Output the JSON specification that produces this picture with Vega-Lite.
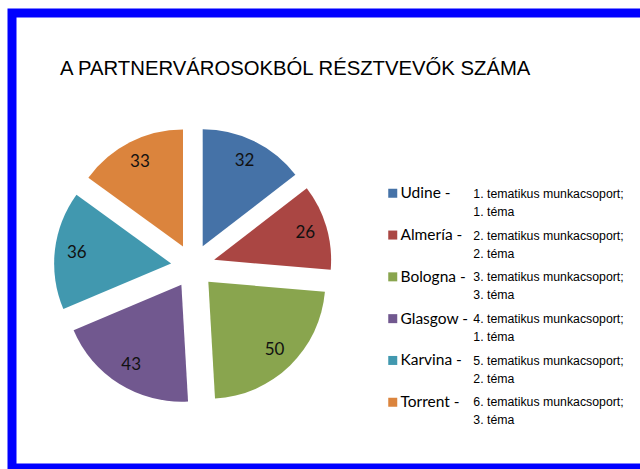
{
  "$schema": "https://vega.github.io/schema/vega-lite/v6.json",
  "width": 633,
  "height": 455,
  "autosize": {"type": "none"},
  "padding": {"left": 12, "top": 13, "right": -5, "bottom": 1},
  "background": "white",
  "config": {
    "view": {"stroke": "#0000FF", "strokeWidth": 9, "fill": "white"},
    "style": {"guide-label": {"lineHeight": 18}}
  },
  "title": {
    "text": "A PARTNERVÁROSOKBÓL RÉSZTVEVŐK SZÁMA",
    "anchor": "start",
    "frame": "group",
    "orient": "top",
    "baseline": "alphabetic",
    "offset": -87,
    "dx": 48,
    "font": "Liberation Sans",
    "fontSize": 20.3,
    "fontWeight": "normal",
    "color": "#000000"
  },
  "data": {
    "values": [
      {"n": 1, "city": "Udine", "value": 32, "desc": "1. tematikus munkacsoport;|1. téma"},
      {"n": 2, "city": "Almería", "value": 26, "desc": "2. tematikus munkacsoport;|2. téma"},
      {"n": 3, "city": "Bologna", "value": 50, "desc": "3. tematikus munkacsoport;|3. téma"},
      {"n": 4, "city": "Glasgow", "value": 43, "desc": "4. tematikus munkacsoport;|1. téma"},
      {"n": 5, "city": "Karvina", "value": 36, "desc": "5. tematikus munkacsoport;|2. téma"},
      {"n": 6, "city": "Torrent", "value": 33, "desc": "6. tematikus munkacsoport;|3. téma"}
    ]
  },
  "layer": [
    {
      "data": {"values": [{"frame": 1}]},
      "mark": {"type": "rect", "fill": "white", "stroke": "#0000FF", "strokeWidth": 9},
      "encoding": {}
    },
    {
      "mark": {
        "type": "arc",
        "outerRadius": 117,
        "x": 181,
        "y": 253,
        "xOffset": {"expr": "22*sin((scale('theta', datum.value_start) + scale('theta', datum.value_end))/2)"},
        "yOffset": {"expr": "-22*cos((scale('theta', datum.value_start) + scale('theta', datum.value_end))/2)"}
      },
      "encoding": {
        "theta": {"field": "value", "type": "quantitative", "stack": true},
        "order": {"field": "n", "type": "quantitative"},
        "color": {
          "field": "city",
          "type": "nominal",
          "scale": {
            "domain": ["Udine", "Almería", "Bologna", "Glasgow", "Karvina", "Torrent"],
            "range": ["#4572A7", "#AA4643", "#89A54E", "#71588F", "#4198AF", "#DB843D"]
          },
          "legend": {
            "orient": "none",
            "legendX": 373,
            "legendY": 172.5,
            "title": null,
            "padding": 0,
            "symbolType": "square",
            "symbolSize": 81,
            "symbolStrokeWidth": 0,
            "labelFont": "Lato",
            "labelFontSize": 15.5,
            "labelColor": "#000000",
            "labelExpr": "datum.label + ' -'",
            "labelOffset": 0,
            "rowPadding": 24.8
          }
        }
      }
    },
    {
      "mark": {"type": "point", "opacity": 0, "x": 181, "y": 253},
      "encoding": {
        "shape": {
          "field": "desc",
          "type": "nominal",
          "legend": {
            "orient": "none",
            "legendX": 449,
            "legendY": 175,
            "title": null,
            "padding": 0,
            "symbolSize": 0,
            "symbolStrokeWidth": 0,
            "symbolOpacity": 0,
            "labelFont": "Liberation Sans",
            "labelFontSize": 12.3,
            "labelColor": "#000000",
            "labelLimit": 300,
            "labelOffset": 0,
            "labelExpr": "split(datum.label, '|')",
            "rowPadding": 10.6
          }
        }
      }
    },
    {
      "mark": {
        "type": "text",
        "radius": 95,
        "x": 181,
        "y": 253,
        "font": "Lato",
        "fontSize": 17,
        "color": "#111111",
        "xOffset": {"expr": "22*sin((scale('theta', datum.value_start) + scale('theta', datum.value_end))/2)"},
        "yOffset": {"expr": "-22*cos((scale('theta', datum.value_start) + scale('theta', datum.value_end))/2)"}
      },
      "encoding": {
        "theta": {"field": "value", "type": "quantitative", "stack": true},
        "order": {"field": "n", "type": "quantitative"},
        "text": {"field": "value", "type": "quantitative"}
      }
    }
  ]
}
